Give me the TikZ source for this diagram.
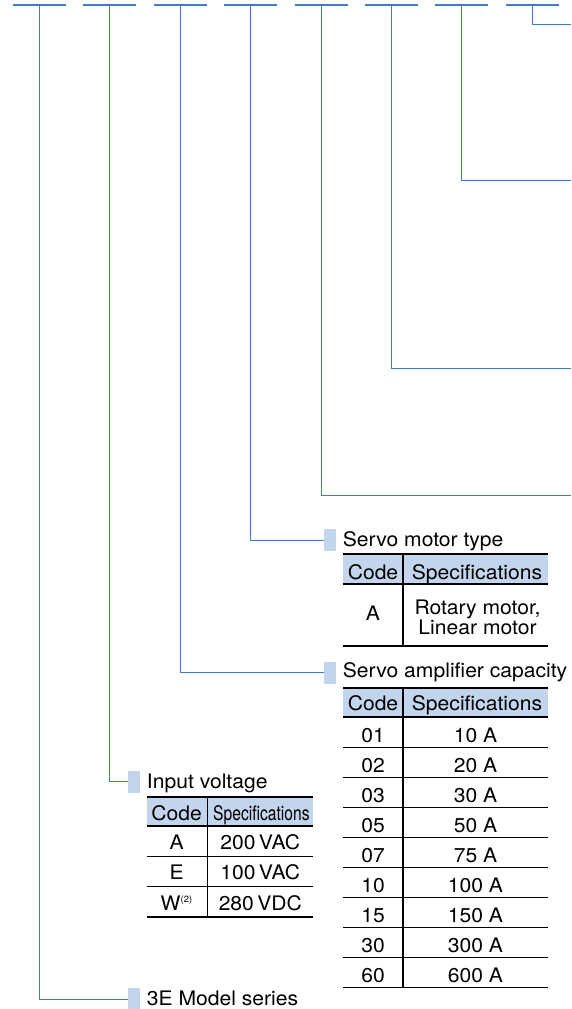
\documentclass[tikz,border=0pt]{standalone}
\usepackage{fontspec}
\setmainfont[FakeStretch=1.055]{TeX Gyre Heros}
\usepackage{graphicx}
\definecolor{lineblue}{RGB}{68,124,196}
\definecolor{hdrblue}{RGB}{194,213,237}
\newcommand{\fs}{\fontsize{20}{21}\selectfont}
\begin{document}
\begin{tikzpicture}[x=1pt,y=-1pt,
  lead/.style={draw=lineblue, line width=1pt},
  dashtop/.style={draw=lineblue, line width=2pt},
  marker/.style={fill=hdrblue, draw=none, minimum width=12pt, minimum height=22pt, inner sep=0pt, outer sep=0pt},
  title/.style={anchor=base west, font=\fs, inner sep=0pt},
  cell/.style={anchor=base, font=\fs, inner sep=0pt},
  tline/.style={draw=black, line width=1.1pt},
  hdr/.style={fill=hdrblue, draw=none}]
\useasboundingbox (0,0) rectangle (571,1009);
% top points
\foreach \i/\x in {1/39.5,2/109.9,3/180.3,4/250.7,5/321.1,6/391.5,7/461.9,8/532.3}{
  \coordinate (t\i) at (\x,4.5);
  \draw[dashtop] ([xshift=-26.5pt]t\i) -- ([xshift=26.5pt]t\i);
}
% right edge ends
\coordinate (e8) at (571,24.5);
\coordinate (e7) at (571,180.5);
\coordinate (e6) at (571,368.5);
\coordinate (e5) at (571,495.3);
\draw[lead] (t8) |- (e8);
\draw[lead] (t7) |- (e7);
\draw[lead] (t6) |- (e6);
\draw[lead] (t5) |- (e5);
% markers
\node[marker] (m4) at (330,540) {};
\node[marker] (m3) at (330,672.7) {};
\node[marker] (m2) at (134,781.7) {};
\node[marker] (m1) at (134,999.3) {};
\draw[lead] (t4) |- (m4.west);
\draw[lead] (t3) |- (m3.west);
\draw[lead] (t2) |- (m2.west);
\draw[lead] (t1) |- (m1.west);
% titles
\node[title] (ti4) at (342.7,546.7) {Servo motor type};
\node[title] (ti3) at (342.7,677.5) {Servo amplifier capacity};
\node[title] (ti2) at (146.7,788.3) {Input voltage};
\node[title] (ti1) at (146.7,1005) {3E Model series};
% ---- Servo motor type table
\fill[hdr] (343,554) rectangle (548,584);
\draw[tline] (343,554) -- (548,554);
\draw[tline] (343,584) -- (548,584);
\draw[tline] (343,646) -- (548,646);
\draw[tline] (403,554) -- (403,646);
\node[cell] (mh1) at (373,579) {Code};
\node[cell] (mh2) at (477,579) {Specifications};
\node[cell] (mc1) at (373,620.7) {A};
\node[cell] (ms1a) at (477.5,614) {Rotary motor,};
\node[cell] (ms1b) at (477.5,634) {Linear motor};
% ---- Servo amplifier capacity table
\fill[hdr] (343,688) rectangle (548,717);
\draw[tline] (343,688) -- (548,688);
\foreach \k in {0,...,9}{
  \draw[tline] (343,717+30.1*\k) -- (548,717+30.1*\k);
}
\draw[tline] (403,688) -- (403,988);
\node[cell] (ah1) at (373,710) {Code};
\node[cell] (ah2) at (477,710) {Specifications};
\foreach \k/\c/\s in {0/01/10 A,1/02/20 A,2/03/30 A,3/05/50 A,4/07/75 A,5/10/100 A,6/15/150 A,7/30/300 A,8/60/600 A}{
  \node[cell] (ac\k) at (373,717+30.1*\k+25) {\c};
  \node[cell] (as\k) at (475.5,717+30.1*\k+25) {\s};
}
% ---- Input voltage table
\fill[hdr] (147,797) rectangle (313.3,826);
\draw[tline] (147,797) -- (313.3,797);
\draw[tline] (147,826) -- (313.3,826);
\draw[tline] (147,856.7) -- (313.3,856.7);
\draw[tline] (147,886.7) -- (313.3,886.7);
\draw[tline] (147,917) -- (313.3,917);
\draw[tline] (207.3,797) -- (207.3,917);
\node[cell] (ih1) at (176.7,820) {Code};
\node[cell] (ih2) at (261.4,820) {\scalebox{0.74}[1]{Specifications}};
\node[cell] (ic1) at (176.7,849.3) {A};
\node[cell] (is1) at (260.3,849.3) {200\,VAC};
\node[cell] (ic2) at (176.7,879.3) {E};
\node[cell] (is2) at (260.3,879.3) {100\,VAC};
\node[cell] (ic3) at (176.7,910) {W\textsuperscript{\fontsize{9}{10}\selectfont(2)}};
\node[cell] (is3) at (260.3,910) {280\,VDC};
\end{tikzpicture}
\end{document}
